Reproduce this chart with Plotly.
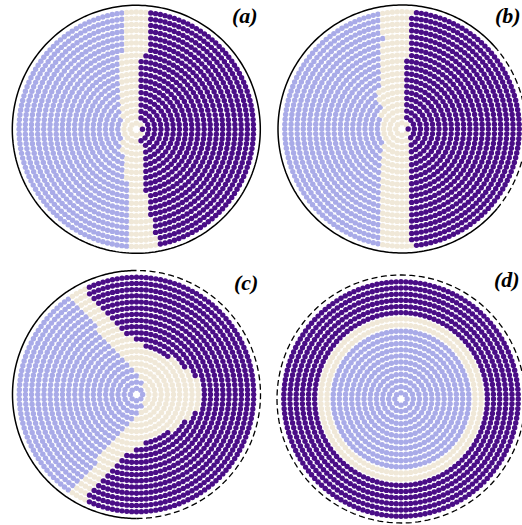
import numpy as np
import plotly.graph_objects as go

W, H = 522, 525
PURPLE, BLUE, BEIGE = "#4a0e87", "#a9abe8", "#f0e8d8"

ring_index = list(range(1, 20))
ring_spacing = 6.17
ring_counts = [8, 16, 24, 32, 40, 48, 56, 64, 72, 80, 88, 96, 104, 112, 120, 128, 136, 144, 152]

# panel (a): band edges (x offset from centre) per ring, upper/lower half
a_top_right = [3, 3, 3, 3, 3, 3, 3, 3, 3, 3, 3, 5, 12, 12, 12, 12, 12, 12, 12]
a_top_left = [-14, -14, -14, -14, -14, -14, -14, -14, -14, -14, -14, -14, -11, -11, -9.5, -9.5, -9.5, -12, -12]
a_bot_right = [3, 3, 3.3, 3.5, 4, 4, 5, 7, 7.5, 8, 9, 10, 11, 12, 14, 15, 17, 18, 20]
a_bot_left = [-14, -14, -13, -13, -11, -10, -9.5, -9, -8, -8, -7, -7, -7, -7.5, -6, -5, -4.5, -4.3, -4.3]

# panel (b)
b_top_right = [3, 3, 3, 3, 3, 3, 3, 3, 3, 3, 3, 8, 8, 8, 8, 8, 8, 8, 12]
b_top_left = [-22, -22, -22, -20, -20, -21.7, -21.7, -21.7, -21.7, -21.7, -21.7, -21.7, -21.7, -21.7, -17, -21.7, -21.7, -21.7, -21.7]
b_bot_right = [4, 4, 4, 6.7, 6.7, 6.7, 6.7, 6.7, 6.7, 6.7, 6.7, 7.3, 7.3, 7.3, 7.3, 7.3, 7.3, 7.3, 12]
b_bot_left = [-18, -18, -18, -18, -18, -18, -19, -19, -19, -19, -19, -19, -19, -19, -19, -19, -19, -22, -22]

# panel (c): angle (deg from +x, mirrored) where each state starts/ends per ring
c_blue_from = [0, 60, 84, 97, 107, 110, 113, 115, 117, 119, 120, 120.5, 121, 121.5, 122, 122.5, 123, 123.5, 124]
c_purple_from = [999, 999, 999, 999, 999, 999, 999, 46, 29, 14, 0, 0, 0, 0, 0, 0, 0, 0, 0]
c_purple_to = [0, 0, 0, 0, 0, 0, 0, 81, 92, 100, 104, 106, 107.5, 110, 112, 113, 114, 115, 115.5]

# panel (d): state per ring
d_states = ["b"] * 11 + ["e"] * 2 + ["p"] * 6

outer_radius = 124
panels = [
    dict(name="polar", cx=136.3, cy=129.3, half=124, label="(a)", lx=244.5, ly=15, dashed=0),
    dict(name="polar2", cx=402, cy=129, half=120, label="(b)", lx=507.5, ly=15, dashed=40),
    dict(name="polar3", cx=136.5, cy=394.5, half=124, label="(c)", lx=245.5, ly=282, dashed=90),
    dict(name="polar4", cx=401, cy=399, half=121, label="(d)", lx=506.5, ly=279, dashed=180),
]


def state_band(k, x, y, tr, tl, br, bl):
    right = tr[k] if y >= 0 else br[k]
    left = tl[k] if y >= 0 else bl[k]
    if x > right + 1.5:
        return "p"
    if x < left - 1.5:
        return "b"
    return "e"


def state_c(k, deg):
    a = abs(((deg + 180) % 360) - 180)
    if a >= c_blue_from[k]:
        return "b"
    if c_purple_from[k] <= a <= c_purple_to[k]:
        return "p"
    return "e"


def classify(panel, k, deg):
    r = ring_index[k] * ring_spacing
    x, y = r * np.cos(np.radians(deg)), r * np.sin(np.radians(deg))
    if panel == 0:
        return state_band(k, x, y, a_top_right, a_top_left, a_bot_right, a_bot_left)
    if panel == 1:
        return state_band(k, x, y, b_top_right, b_top_left, b_bot_right, b_bot_left)
    if panel == 2:
        return state_c(k, deg)
    return d_states[k]


def outline_path(cx, cy, a0, a1):
    th = np.radians(np.linspace(a0, a1, 240))
    xs = (cx + outer_radius * np.cos(th)) / W
    ys = 1 - (cy - outer_radius * np.sin(th)) / H
    return "M" + " L".join("%.5f,%.5f" % (x, y) for x, y in zip(xs, ys))


fig = go.Figure()
colors = {"b": BLUE, "e": BEIGE, "p": PURPLE}

for p, cfg in enumerate(panels):
    pts = {"b": ([], []), "e": ([], []), "p": ([], [])}
    for k, n in enumerate(ring_counts):
        for i in range(n):
            deg = 360.0 * i / n
            s = classify(p, k, deg)
            pts[s][0].append(ring_index[k] * ring_spacing)
            pts[s][1].append(deg)
    for s, (rr, tt) in pts.items():
        fig.add_trace(go.Scatterpolar(
            r=rr, theta=tt, mode="markers", subplot=cfg["name"], cliponaxis=False,
            marker=dict(size=5.4, color=colors[s], line=dict(width=0)),
            showlegend=False, hoverinfo="skip"))
    d = cfg["dashed"]
    if d < 180:
        fig.add_shape(type="path", xref="paper", yref="paper",
                      path=outline_path(cfg["cx"], cfg["cy"], d, 360 - d),
                      line=dict(color="black", width=1.5))
    if d > 0:
        fig.add_shape(type="path", xref="paper", yref="paper",
                      path=outline_path(cfg["cx"], cfg["cy"], -d, d),
                      line=dict(color="black", width=1.3, dash="6px,3.5px"))
    polar = dict(
        domain=dict(x=[(cfg["cx"] - cfg["half"]) / W, (cfg["cx"] + cfg["half"]) / W],
                    y=[1 - (cfg["cy"] + cfg["half"]) / H, 1 - (cfg["cy"] - cfg["half"]) / H]),
        radialaxis=dict(visible=False, range=[0, cfg["half"]]),
        angularaxis=dict(visible=False),
        bgcolor="rgba(0,0,0,0)",
    )
    fig.update_layout(**{cfg["name"]: polar})
    fig.add_annotation(text="<b><i>%s</i></b>" % cfg["label"], x=cfg["lx"] / W, y=1 - cfg["ly"] / H,
                       xref="paper", yref="paper", showarrow=False, xanchor="center", yanchor="middle",
                       font=dict(family="Liberation Serif", size=22, color="black"))

fig.update_layout(width=W, height=H, margin=dict(l=0, r=0, t=0, b=0),
                  paper_bgcolor="white", plot_bgcolor="white", showlegend=False)
fig.write_html("out.html", post_script="document.body.style.margin='0';",
               config=dict(displayModeBar=False))
